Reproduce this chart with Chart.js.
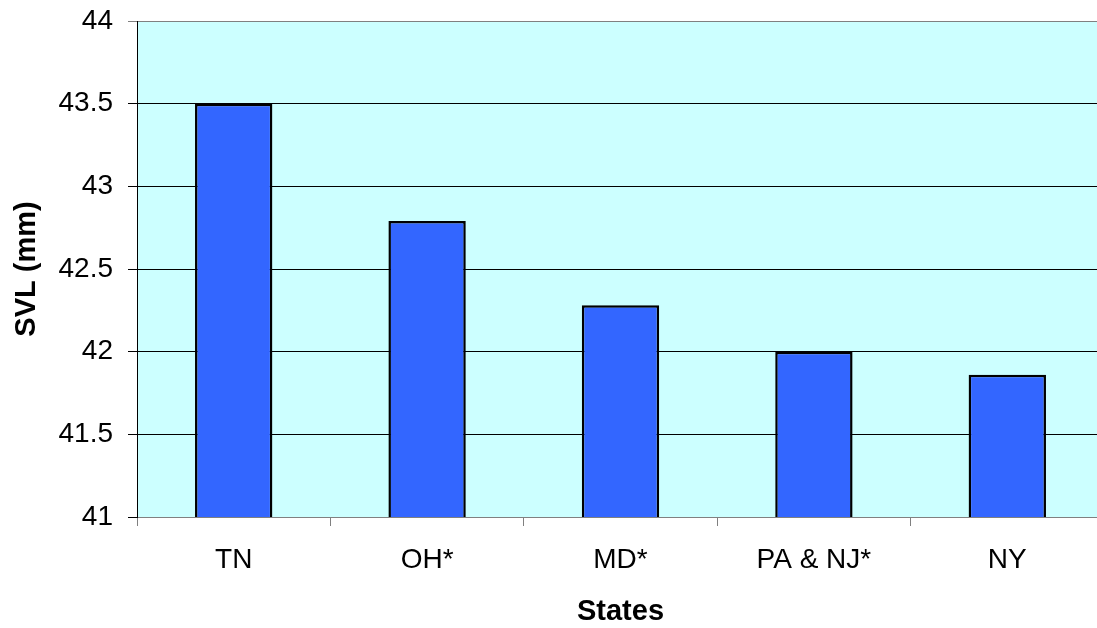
<!DOCTYPE html>
<html>
<head>
<meta charset="utf-8">
<script src="https://cdn.jsdelivr.net/npm/chart.js@4/dist/chart.umd.min.js"></script>
<style>
  html, body { margin: 0; padding: 0; background: #ffffff; overflow: hidden; }
  #wrap { width: 1097px; height: 628px; overflow: hidden; }
  canvas { display: block; }
</style>
</head>
<body>
<div id="wrap"><canvas id="c" width="1105" height="628"></canvas></div>
<script>
// Mean snout-vent length by state
const categories = ['TN', 'OH*', 'MD*', 'PA & NJ*', 'NY'];
const svlValues = [43.5, 42.79, 42.28, 42.0, 41.86];
const yMin = 41;
const yMax = 44;
const yStep = 0.5;

const FONT = '"Liberation Sans", Arial, Helvetica, sans-serif';

// Pale cyan fill behind the plot area
const plotBackground = {
  id: 'plotBackground',
  beforeDraw(chart) {
    const { ctx, chartArea: a } = chart;
    ctx.save();
    ctx.fillStyle = '#CCFFFF';
    ctx.fillRect(a.left, a.top, a.right - a.left, a.bottom - a.top);
    ctx.restore();
  }
};

new Chart(document.getElementById('c'), {
  type: 'bar',
  data: {
    labels: categories,
    datasets: [{
      data: svlValues,
      backgroundColor: '#3366FF',
      borderColor: '#000000',
      borderWidth: 2.5,
      categoryPercentage: 1.0,
      barPercentage: 0.4
    }]
  },
  options: {
    responsive: false,
    animation: false,
    layout: { padding: { top: 21, right: 1, left: 0, bottom: 0 } },
    plugins: {
      legend: { display: false },
      tooltip: { enabled: false }
    },
    scales: {
      x: {
        afterFit(scale) { scale.height = 111; },
        grid: {
          display: true,
          offset: true,
          drawOnChartArea: false,
          drawTicks: true,
          tickLength: 9,
          color: '#808080'
        },
        border: { color: '#808080', width: 1 },
        ticks: {
          color: '#000000',
          padding: 17,
          font: { family: FONT, size: 28 }
        },
        title: {
          display: true,
          text: 'States',
          color: '#000000',
          font: { family: FONT, size: 29, weight: 'bold', lineHeight: 1 },
          padding: { top: 0, bottom: 2 }
        }
      },
      y: {
        min: yMin,
        max: yMax,
        afterFit(scale) {
          scale.width = 137;
          scale.paddingTop = 0;
          scale.paddingBottom = 0;
        },
        grid: {
          color: (c) => (c.tick && c.tick.value === yMax ? '#808080' : '#000000'),
          lineWidth: 1,
          tickLength: 9,
          drawTicks: true
        },
        border: { color: '#000000', width: 1 },
        ticks: {
          stepSize: yStep,
          color: '#000000',
          padding: 15,
          font: { family: FONT, size: 28 },
          callback: (value) => String(value)
        },
        title: {
          display: true,
          text: 'SVL (mm)',
          color: '#000000',
          font: { family: FONT, size: 29, weight: 'bold', lineHeight: 1 },
          padding: { top: 12, bottom: 0 }
        }
      }
    }
  },
  plugins: [plotBackground]
});
</script>
</body>
</html>
